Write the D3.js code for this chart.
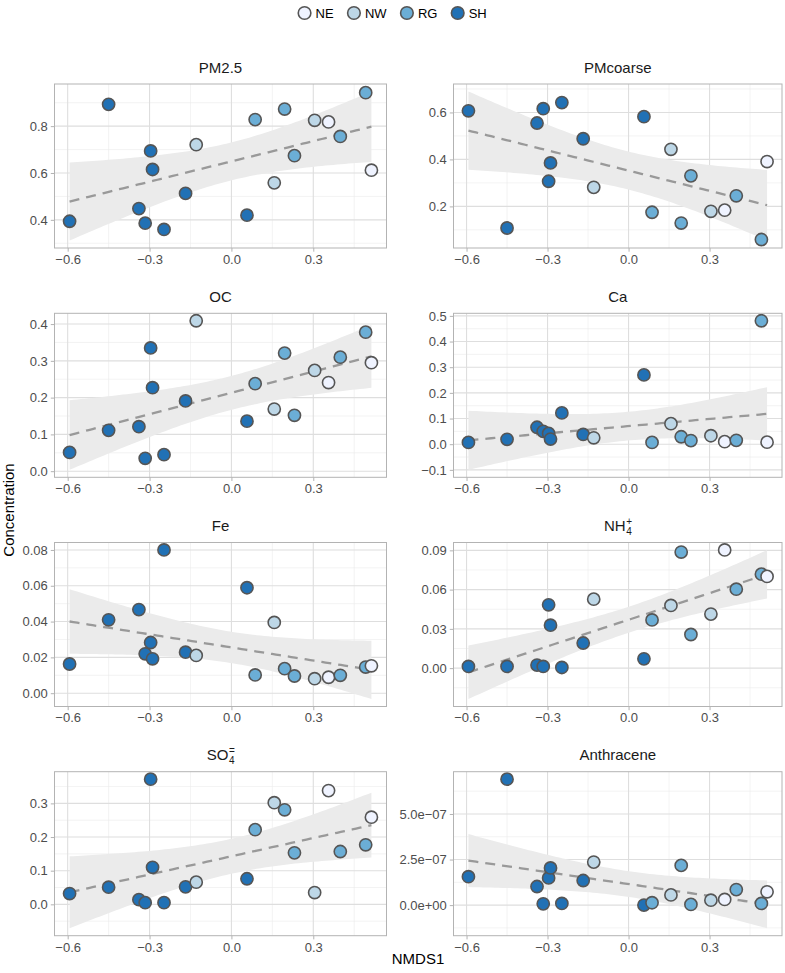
<!DOCTYPE html>
<html><head><meta charset="utf-8">
<script src="https://cdn.jsdelivr.net/npm/d3@7"></script>
<style>
body{margin:0;background:#fff}
svg{display:block}
text{font-family:"Liberation Sans",Arial,Helvetica,sans-serif}
</style>
</head><body>
<svg id="chart" width="785" height="973"></svg>
<script>
// ---- data ----
const nmds1 = [-0.593,-0.450,-0.339,-0.316,-0.296,-0.289,-0.247,-0.168,-0.129,0.057,0.087,0.157,0.195,0.231,0.305,0.356,0.399,0.492,0.513];
const site  = ["SH","SH","SH","SH","SH","SH","SH","SH","NW","SH","RG","NW","RG","RG","NW","NE","RG","RG","NE"];
const groups = ["NE","NW","RG","SH"];
const groupColors = ["#EFF3FF","#BDD7E7","#6BAED6","#2171B5"];

const pm25       = [0.394,0.893,0.448,0.386,0.694,0.615,0.359,0.513,0.721,0.420,0.828,0.558,0.873,0.674,0.825,0.818,0.756,0.943,0.612];
const pmcoarse   = [0.607,0.108,0.555,0.616,0.307,0.385,0.642,0.488,0.281,0.582,0.175,0.443,0.129,0.330,0.179,0.184,0.245,0.059,0.391];
const oc         = [0.051,0.111,0.121,0.035,0.335,0.227,0.045,0.191,0.409,0.136,0.238,0.169,0.321,0.152,0.274,0.241,0.310,0.378,0.295];
const ca         = [0.007,0.019,0.066,0.050,0.042,0.020,0.122,0.038,0.025,0.270,0.007,0.080,0.029,0.014,0.033,0.010,0.015,0.481,0.008];
const fe         = [0.0163,0.0410,0.0467,0.0220,0.0283,0.0192,0.0800,0.0229,0.0211,0.0589,0.0102,0.0395,0.0137,0.0096,0.0081,0.0089,0.0100,0.0146,0.0153];
const nh4        = [0.0013,0.0013,0.0023,0.0013,0.0484,0.0328,0.0005,0.0192,0.0527,0.0071,0.0368,0.0479,0.0887,0.0257,0.0413,0.0903,0.0603,0.0718,0.0701];
const so4        = [0.032,0.051,0.014,0.005,0.372,0.110,0.005,0.052,0.066,0.076,0.222,0.302,0.281,0.153,0.035,0.338,0.157,0.177,0.259];
const anthracene = [1.56e-7,6.91e-7,1.02e-7,0.07e-7,1.49e-7,2.04e-7,0.09e-7,1.35e-7,2.36e-7,0.00e-7,0.13e-7,0.56e-7,2.18e-7,0.04e-7,0.27e-7,0.31e-7,0.85e-7,0.09e-7,0.73e-7];

const panelNames = ["PM2.5","PMcoarse","OC","Ca","Fe","NH4","SO4","Anthracene"];

const xTicks = [-0.6,-0.3,0,0.3];
const xTickLabels = ["\u22120.6","\u22120.3","0.0","0.3"];

const pm25Ticks = [0.4,0.6,0.8];          const pm25Labels = ["0.4","0.6","0.8"];
const pmcoarseTicks = [0.2,0.4,0.6];      const pmcoarseLabels = ["0.2","0.4","0.6"];
const ocTicks = [0,0.1,0.2,0.3,0.4];      const ocLabels = ["0.0","0.1","0.2","0.3","0.4"];
const caTicks = [-0.1,0,0.1,0.2,0.3,0.4,0.5]; const caLabels = ["\u22120.1","0.0","0.1","0.2","0.3","0.4","0.5"];
const feTicks = [0,0.02,0.04,0.06,0.08];  const feLabels = ["0.00","0.02","0.04","0.06","0.08"];
const nh4Ticks = [0,0.03,0.06,0.09];      const nh4Labels = ["0.00","0.03","0.06","0.09"];
const so4Ticks = [0,0.1,0.2,0.3];         const so4Labels = ["0.0","0.1","0.2","0.3"];
const anthTicks = [0,2.5e-7,5e-7];        const anthLabels = ["0.0e+00","2.5e\u221207","5.0e\u221207"];

// ---- layout ----
const svg = d3.select("#chart");
const colX = [[54.5,386.5],[453.5,782]];
const rowTop = [84, 313.3, 542.5, 771.7];
const panelH = 164;
const FONT = "Liberation Sans, Arial, sans-serif";

const panels = [
  {name:panelNames[0], vals:pm25, ticks:pm25Ticks, labels:pm25Labels},
  {name:panelNames[1], vals:pmcoarse, ticks:pmcoarseTicks, labels:pmcoarseLabels},
  {name:panelNames[2], vals:oc, ticks:ocTicks, labels:ocLabels},
  {name:panelNames[3], vals:ca, ticks:caTicks, labels:caLabels},
  {name:panelNames[4], vals:fe, ticks:feTicks, labels:feLabels},
  {name:panelNames[5], vals:nh4, ticks:nh4Ticks, labels:nh4Labels, expr:["NH","4","+"]},
  {name:panelNames[6], vals:so4, ticks:so4Ticks, labels:so4Labels, expr:["SO","4","="]},
  {name:panelNames[7], vals:anthracene, ticks:anthTicks, labels:anthLabels}
];

const color = d3.scaleOrdinal().domain(groups).range(groupColors);

function lmBand(xs, ys, n){
  const N = xs.length, mx = d3.mean(xs), my = d3.mean(ys);
  let sxx=0, sxy=0;
  for(let i=0;i<N;i++){ sxx += (xs[i]-mx)**2; sxy += (xs[i]-mx)*(ys[i]-my); }
  const b = sxy/sxx, a = my - b*mx;
  let sse=0;
  for(let i=0;i<N;i++){ sse += (ys[i]-a-b*xs[i])**2; }
  const s = Math.sqrt(sse/(N-2));
  const t = 2.109816; // qt(0.975, 17)
  const [x0,x1] = d3.extent(xs);
  return d3.range(n).map(i=>{
    const x = x0 + (x1-x0)*i/(n-1);
    const fit = a + b*x;
    const se = s*Math.sqrt(1/N + (x-mx)**2/sxx);
    return {x, fit, lo:fit-t*se, hi:fit+t*se};
  });
}

function expand(ext, f){ const d=(ext[1]-ext[0])*f; return [ext[0]-d, ext[1]+d]; }
function minorBreaks(majors, dom){
  const step = majors[1]-majors[0];
  const ext = [majors[0]-step, ...majors, majors[majors.length-1]+step];
  const out=[];
  for(let i=0;i<ext.length-1;i++){ const m=(ext[i]+ext[i+1])/2; if(m>=dom[0]&&m<=dom[1]) out.push(m); }
  return out;
}

const xDom = expand(d3.extent(nmds1), 0.05);

panels.forEach((p, idx)=>{
  const col = idx%2, row = Math.floor(idx/2);
  const [L,R] = colX[col];
  const T = rowTop[row], B = T + panelH;
  const band = lmBand(nmds1, p.vals, 80);
  const yExt = d3.extent([...p.vals, ...band.map(d=>d.lo), ...band.map(d=>d.hi)]);
  const yDom = expand(yExt, 0.05);
  const x = d3.scaleLinear().domain(xDom).range([L,R]);
  const y = d3.scaleLinear().domain(yDom).range([B,T]);
  const g = svg.append("g");

  // grid
  const xMinor = minorBreaks(xTicks, xDom);
  const yMajor = p.ticks.filter(v=>v>=yDom[0]&&v<=yDom[1]);
  const yMinor = minorBreaks(p.ticks, yDom);
  g.selectAll(".xmin").data(xMinor).join("line")
    .attr("x1",d=>x(d)).attr("x2",d=>x(d)).attr("y1",T).attr("y2",B)
    .attr("stroke","#ebebeb").attr("stroke-width",0.6);
  g.selectAll(".ymin").data(yMinor).join("line")
    .attr("y1",d=>y(d)).attr("y2",d=>y(d)).attr("x1",L).attr("x2",R)
    .attr("stroke","#ebebeb").attr("stroke-width",0.6);
  g.selectAll(".xmaj").data(xTicks).join("line")
    .attr("x1",d=>x(d)).attr("x2",d=>x(d)).attr("y1",T).attr("y2",B)
    .attr("stroke","#dedede").attr("stroke-width",1.1);
  g.selectAll(".ymaj").data(yMajor).join("line")
    .attr("y1",d=>y(d)).attr("y2",d=>y(d)).attr("x1",L).attr("x2",R)
    .attr("stroke","#dedede").attr("stroke-width",1.1);

  // band + line
  g.append("path").datum(band)
    .attr("d", d3.area().x(d=>x(d.x)).y0(d=>y(d.lo)).y1(d=>y(d.hi)))
    .attr("fill","#ebebeb");
  g.append("path").datum(band)
    .attr("d", d3.line().x(d=>x(d.x)).y(d=>y(d.fit)))
    .attr("fill","none").attr("stroke","#999999").attr("stroke-width",2.3)
    .attr("stroke-dasharray","10,7");

  // points
  g.selectAll(".pt").data(nmds1.map((v,i)=>({x:v, y:p.vals[i], g:site[i]}))).join("circle")
    .attr("cx",d=>x(d.x)).attr("cy",d=>y(d.y)).attr("r",6.1)
    .attr("fill",d=>color(d.g)).attr("stroke","#555555").attr("stroke-width",1.6);

  // border
  g.append("rect").attr("x",L).attr("y",T).attr("width",R-L).attr("height",B-T)
    .attr("fill","none").attr("stroke","#b3b3b3").attr("stroke-width",1);

  // axes
  const xa = g.append("g").attr("transform",`translate(0,${B})`)
    .call(d3.axisBottom(x).tickValues(xTicks).tickFormat((d,i)=>xTickLabels[i]).tickSizeInner(3.7).tickSizeOuter(0).tickPadding(3));
  const ya = g.append("g").attr("transform",`translate(${L},0)`)
    .call(d3.axisLeft(y).tickValues(yMajor).tickFormat(d=>p.labels[p.ticks.indexOf(d)]).tickSizeInner(3.7).tickSizeOuter(0).tickPadding(3));
  [xa,ya].forEach(a=>{
    a.select(".domain").remove();
    a.selectAll(".tick line").attr("stroke","#b3b3b3").attr("stroke-width",1);
    a.selectAll(".tick text").attr("fill","#4d4d4d").attr("font-size",13).attr("font-family",FONT);
  });

  // strip title
  const cx = (L+R)/2, ty = T - 11.5;
  if(p.expr){
    const tg = g.append("g");
    const m = tg.append("text").attr("x",0).attr("y",0).attr("font-size",15).attr("fill","#1a1a1a").text(p.expr[0]);
    const w1 = m.node().getComputedTextLength();
    const sb = tg.append("text").attr("x",w1+0.5).attr("y",4).attr("font-size",10).attr("fill","#1a1a1a").text(p.expr[1]);
    const sp = tg.append("text").attr("x",w1+0.5).attr("y",-6).attr("font-size",10).attr("fill","#1a1a1a").text(p.expr[2]);
    const w2 = Math.max(sb.node().getComputedTextLength(), sp.node().getComputedTextLength());
    tg.attr("transform",`translate(${cx-(w1+w2)/2},${ty})`);
  } else {
    g.append("text").attr("x",cx).attr("y",ty).attr("text-anchor","middle")
      .attr("font-size",15).attr("fill","#1a1a1a").text(p.name);
  }
});

// axis titles
svg.append("text").attr("x",418).attr("y",964).attr("text-anchor","middle")
  .attr("font-size",15).attr("fill","#000").text("NMDS1");
svg.append("text").attr("transform","translate(13.5,510) rotate(-90)").attr("text-anchor","middle")
  .attr("font-size",15).attr("fill","#000").text("Concentration");

// legend
const lg = svg.append("g");
let lx = 0;
const GAP = 14, TXT = 11;
groups.forEach((gname,i)=>{
  const it = lg.append("g");
  it.append("circle").attr("cx",0).attr("cy",0).attr("r",6.3)
    .attr("fill",groupColors[i]).attr("stroke","#555555").attr("stroke-width",1.6);
  const t = it.append("text").attr("x",TXT).attr("y",4.7).attr("font-size",13).attr("fill","#000").text(gname);
  const w = t.node().getComputedTextLength();
  it.attr("transform",`translate(${lx},0)`);
  lx += TXT + w + GAP + 6.3;
});
const total = lx - GAP - 6.3 + 6.3;
lg.attr("transform",`translate(${392.5 - total/2 + 6.3},13)`);
</script>
</body></html>
